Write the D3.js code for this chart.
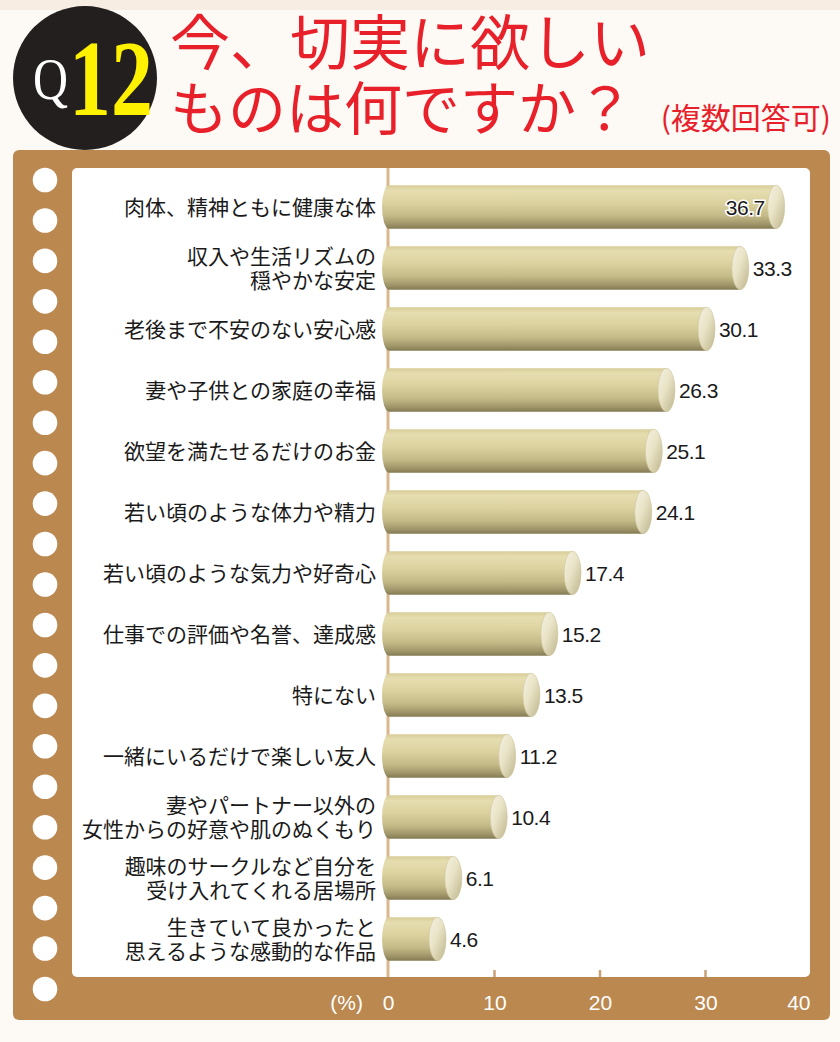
<!DOCTYPE html>
<html><head><meta charset="utf-8">
<script src="https://cdn.jsdelivr.net/npm/d3@7"></script>
<style>
html,body{margin:0;padding:0;background:#fdfaf6;}
svg{display:block;}
</style></head>
<body>
<svg id="chart" width="840" height="1042"></svg>
<script>
const categories = [
  ["肉体、精神ともに健康な体"],
  ["収入や生活リズムの","穏やかな安定"],
  ["老後まで不安のない安心感"],
  ["妻や子供との家庭の幸福"],
  ["欲望を満たせるだけのお金"],
  ["若い頃のような体力や精力"],
  ["若い頃のような気力や好奇心"],
  ["仕事での評価や名誉、達成感"],
  ["特にない"],
  ["一緒にいるだけで楽しい友人"],
  ["妻やパートナー以外の","女性からの好意や肌のぬくもり"],
  ["趣味のサークルなど自分を","受け入れてくれる居場所"],
  ["生きていて良かったと","思えるような感動的な作品"]
];
const values = [36.7, 33.3, 30.1, 26.3, 25.1, 24.1, 17.4, 15.2, 13.5, 11.2, 10.4, 6.1, 4.6];
const xTicks = [0, 10, 20, 30, 40];
const titleLines = ["今、切実に欲しい", "ものは何ですか？"];
const titleNote = "(複数回答可)";
const unitLabel = "(%)";

const svg = d3.select("#chart");
const defs = svg.append("defs");

// background top strip
svg.append("rect").attr("x",0).attr("y",0).attr("width",840).attr("height",10).attr("fill","#f8ede3");

// bar gradient
const g1 = defs.append("linearGradient").attr("id","barGrad").attr("x1",0).attr("y1",0).attr("x2",0).attr("y2",1);
[[0,"#d8cd99"],[0.12,"#e6ddb0"],[0.4,"#dcd29f"],[0.7,"#c4ba87"],[0.9,"#9e9468"],[1,"#847b54"]]
  .forEach(s=>g1.append("stop").attr("offset",s[0]).attr("stop-color",s[1]));
const g2 = defs.append("linearGradient").attr("id","capGrad").attr("x1",0).attr("y1",0).attr("x2",1).attr("y2",1);
[[0,"#f4f1e2"],[0.45,"#e9e3c6"],[1,"#bdb48b"]]
  .forEach(s=>g2.append("stop").attr("offset",s[0]).attr("stop-color",s[1]));

// brown panel
svg.append("rect").attr("x",13).attr("y",150).attr("width",817).attr("height",870).attr("rx",6).attr("fill","#bb8850");
// white inner panel
svg.append("rect").attr("x",72).attr("y",168).attr("width",738).attr("height",809).attr("rx",5).attr("fill","#ffffff");

// dots
const dotYs = d3.range(21).map(i => 180 + i*40.45);
svg.selectAll("circle.dot").data(dotYs).join("circle").attr("class","dot")
  .attr("cx",45).attr("cy",d=>d).attr("r",12.3).attr("fill","#ffffff");

// title badge
svg.append("circle").attr("cx",85).attr("cy",78).attr("r",72).attr("fill","#231f1f");
svg.append("text").attr("x",33).attr("y",99).attr("font-family","Liberation Serif, serif")
  .attr("font-size",60).attr("fill","#ffffff").attr("textLength",35).attr("lengthAdjust","spacingAndGlyphs").text("Q");
svg.append("text").attr("x",69).attr("y",115).attr("font-family","Liberation Serif, serif").attr("font-weight","bold")
  .attr("font-size",108).attr("fill","#fff200").attr("textLength",84).attr("lengthAdjust","spacingAndGlyphs").text("12");

// title text
const tf = "'Noto Sans CJK JP', sans-serif";
svg.append("text").attr("x",170).attr("y",65).attr("font-family",tf).attr("font-size",60)
  .attr("fill","#e8202a").text(titleLines[0]);
svg.append("text").attr("x",170).attr("y",130).attr("font-family",tf).attr("font-size",58)
  .attr("fill","#e8202a").text(titleLines[1]);
svg.append("text").attr("x",831).attr("y",129).attr("text-anchor","end").attr("font-family",tf).attr("font-size",30)
  .attr("fill","#e8202a").text(titleNote);

// scales
const x = d3.scaleLinear().domain([0,40]).range([389,811]);
const y = d3.scaleBand().domain(d3.range(values.length)).range([176.5,969.5]).paddingInner(0.29).paddingOuter(0.145);

// axis line
svg.append("line").attr("x1",x(0)-1).attr("x2",x(0)-1).attr("y1",168).attr("y2",977)
  .attr("stroke","#dbb790").attr("stroke-width",3);

// bottom axis
const axis = d3.axisBottom(x).tickValues(xTicks).tickSize(0).tickPadding(0).tickFormat(d3.format("d"));
const ax = svg.append("g").attr("transform","translate(0,1010)").call(axis);
ax.select(".domain").remove();
ax.selectAll("text").attr("font-family","Liberation Sans, Arial, sans-serif").attr("font-size",21)
  .attr("fill","#ffffff").attr("dy",0).attr("y",0);
ax.selectAll(".tick").filter(d=>d===40).select("text").attr("text-anchor","end").attr("x",0).attr("dx",-1);
ax.selectAll(".tick").filter(d=>d===0).select("text").attr("dx",-1);
svg.append("text").attr("x",363).attr("y",1010).attr("text-anchor","end")
  .attr("font-family","Liberation Sans, Arial, sans-serif").attr("font-size",21).attr("fill","#ffffff")
  .text(unitLabel);
// tick marks inside panel bottom
svg.selectAll("line.tk").data(xTicks.filter(d=>d>0 && d<40)).join("line").attr("class","tk")
  .attr("x1",d=>x(d)).attr("x2",d=>x(d)).attr("y1",970).attr("y2",977)
  .attr("stroke","#c9a176").attr("stroke-width",2.5);

// bars
const bh = y.bandwidth();
const rxL = 7, rxC = 8.5;
const bars = svg.selectAll("g.bar").data(values).join("g").attr("class","bar")
  .attr("transform",(d,i)=>`translate(0,${y(i)})`);
bars.append("path").attr("fill","url(#barGrad)")
  .attr("d", d => {
    const x0 = x(0), x1 = x(d);
    return `M${x1},0 L${x0},0 A${rxL},${bh/2} 0 0 0 ${x0},${bh} L${x1},${bh} Z`;
  });
bars.append("ellipse").attr("cx",d=>x(d)).attr("cy",bh/2).attr("rx",rxC).attr("ry",bh/2)
  .attr("fill","url(#capGrad)").attr("stroke","#cdc49c").attr("stroke-width",0.6);

// value labels
bars.append("text")
  .attr("x",(d,i)=> i===0 ? x(d)-rxC-3 : x(d)+rxC+4)
  .attr("y",bh/2).attr("dy","0.36em")
  .attr("text-anchor",(d,i)=> i===0 ? "end" : "start")
  .attr("font-family","Liberation Sans, Arial, sans-serif").attr("font-size",21).attr("fill","#1a1a1a")
  .attr("stroke",(d,i)=> i===0 ? "#ffffff" : "none").attr("stroke-width",3).attr("paint-order","stroke")
  .attr("letter-spacing",-0.5)
  .text(d=>d.toFixed(1));

// category labels
const labs = svg.selectAll("text.cat").data(categories).join("text").attr("class","cat")
  .attr("text-anchor","end").attr("font-family",tf).attr("font-size",21).attr("fill","#1a1a1a");
labs.each(function(lines,i){
  const t = d3.select(this);
  const cy = y(i)+bh/2;
  const lh = 24;
  lines.forEach((s,k)=>{
    t.append("tspan").attr("x",376).attr("y", cy + (k-(lines.length-1)/2)*lh).attr("dy","0.36em").text(s);
  });
});
</script>
</body></html>
